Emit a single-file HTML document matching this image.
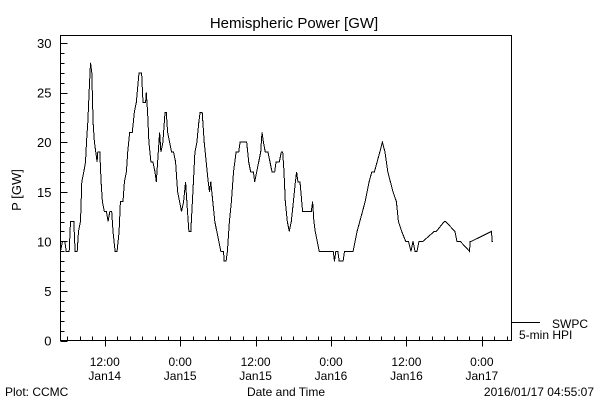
<!DOCTYPE html>
<html><head><meta charset="utf-8"><style>
body{margin:0;background:#fff;}
svg{display:block;font-family:"Liberation Sans",sans-serif;}
</style></head><body>
<svg id="chart" width="600" height="400" viewBox="0 0 600 400" xmlns="http://www.w3.org/2000/svg" shape-rendering="crispEdges">
<rect width="600" height="400" fill="#fff"/>
<text x="294" y="28" font-size="15" text-anchor="middle">Hemispheric Power [GW]</text>
<text transform="translate(21,190) rotate(-90)" font-size="13" text-anchor="middle">P [GW]</text>
<rect x="60.5" y="35.5" width="451" height="305" fill="none" stroke="#000"/>
<g id="yaxis"></g>
<g id="xaxis"></g>
<path id="series" fill="none" stroke="#000" stroke-width="1"/>
<line x1="512" y1="322.5" x2="540" y2="322.5" stroke="#000"/>
<text x="552" y="328" font-size="12">SWPC</text>
<text x="519" y="339" font-size="12">5-min HPI</text>
<text x="286" y="396" font-size="12" text-anchor="middle">Date and Time</text>
<text x="5" y="396" font-size="12">Plot: CCMC</text>
<text x="594" y="396" font-size="12" text-anchor="end">2016/01/17 04:55:07</text>
</svg>
<script>
// hours since 2016-01-14 00:00
const hours=[4.96,5.28,5.65,5.86,6.34,6.55,7.08,7.29,7.61,7.82,8.14,8.35,8.67,8.93,9.09,9.30,9.51,9.73,9.94,10.15,10.36,10.57,10.78,10.89,11.21,11.42,11.63,11.95,12.27,12.53,12.80,13.11,13.32,13.64,13.96,14.28,14.49,14.91,15.12,15.44,15.65,15.97,16.39,16.71,17.02,17.45,17.87,18.08,18.50,18.61,18.82,19.03,19.35,19.67,19.99,20.20,20.52,20.73,20.94,21.26,21.58,21.79,22.00,22.32,22.63,22.95,23.27,23.59,23.91,24.22,24.54,24.86,24.96,25.17,25.39,25.70,26.02,26.34,26.66,26.97,27.18,27.50,27.82,28.14,28.46,28.67,28.88,29.20,29.51,29.83,30.15,30.47,30.89,31.00,31.31,31.52,31.84,32.16,32.48,32.90,33.32,33.53,34.59,34.91,35.23,35.65,35.86,36.18,36.50,36.81,37.02,37.24,37.55,37.98,38.29,38.61,39.04,39.25,39.78,40.10,40.31,40.52,40.73,41.05,41.37,41.69,42.01,42.33,42.53,42.74,43.06,43.48,44.86,45.07,45.28,45.49,45.81,46.12,48.35,48.56,48.77,49.09,49.30,49.93,50.15,51.52,51.84,52.16,52.58,53.01,53.43,53.75,54.07,54.49,54.91,55.76,56.18,56.60,57.03,57.45,57.87,58.40,58.72,59.25,59.88,60.31,60.73,61.05,61.37,61.68,62.00,62.64,64.44,64.75,66.02,66.23,67.72,68.03,68.56,70.04,70.15,70.36,73.54,73.64,73.75,76.72];
const power=[9,10,10,9,9,12,12,9,9,11,12,16,17,18,20,22,25,28,27,22,20,19,18,19,19,16,14,13,13,12,13,13,11,9,9,11,14,14,16,17,19,21,21,23,24,27,27,24,24,25,23,20,18,18,17,16,19,21,19,20,23,23,21,20,19,19,18,15,14,13,14,16,15,13,11,11,15,19,20,22,23,23,20,18,16,15,16,14,12,11,10,9,9,8,8,9,12,14,17,19,19,20,20,18,17,17,16,17,18,19,21,20,19,19,18,17,17,18,18,19,19,17,14,12,11,12,14,16,17,16,16,13,13,14,12,11,10,9,9,8,9,9,8,8,9,9,10,11,12,13,14,15,16,17,17,19,20,19,17,16,15,14,12,11,10,10,9,10,9,9,10,10,11,11,12,12,11,10,10,9,10,10,11,10,10];
const yTicks=[0,5,10,15,20,25,30];
const xMajor=[12,24,36,48,60,72];
const xTimeLabels=["12:00","0:00","12:00","0:00","12:00","0:00"];
const xDateLabels=["Jan14","Jan15","Jan15","Jan16","Jan16","Jan17"];
const X0=4.96,X1=76.72,L=60.5,R=511.5,T=43,B=340.5;
function xs(h){return L+(h-X0)/(X1-X0)*(R-L);}
function ys(v){return B-(v/30)*(B-T);}
const NS="http://www.w3.org/2000/svg";
function mk(tag,attrs,parent){const e=document.createElementNS(NS,tag);for(const k in attrs)e.setAttribute(k,attrs[k]);parent.appendChild(e);return e;}
const ya=document.getElementById('yaxis'),xa=document.getElementById('xaxis');
for(let v=0;v<=30;v++){
  const y=Math.round(ys(v))+0.5,maj=v%5===0;
  const t=mk('line',{x1:L,y1:y,x2:L+(maj?7:4),y2:y,stroke:'#000'},ya);
  
  
}
yTicks.forEach(v=>{
  const t=mk('text',{x:L-9,y:ys(v)+5,'font-size':13,'text-anchor':'end'},ya);
  t.textContent=v;
  
  
});
for(let h=6;h<=76;h+=2){
  const x=Math.round(xs(h))+0.5,maj=h%12===0;
  const t=mk('line',{x1:x,y1:maj?B+6:B,x2:x,y2:B-4,stroke:'#000'},xa);
  
  
}
xMajor.forEach((h,i)=>{
  const a=mk('text',{x:xs(h),y:366,'font-size':12,'text-anchor':'middle'},xa);
  a.textContent=xTimeLabels[i];
  
  
  const b=mk('text',{x:xs(h),y:380,'font-size':12,'text-anchor':'middle'},xa);
  b.textContent=xDateLabels[i];
  
  
});
let d='';
hours.forEach((h,i)=>{d+=(i?'L':'M')+xs(h).toFixed(1)+' '+ys(power[i]).toFixed(1);});
document.getElementById('series').setAttribute('d',d);
</script>
</body></html>
